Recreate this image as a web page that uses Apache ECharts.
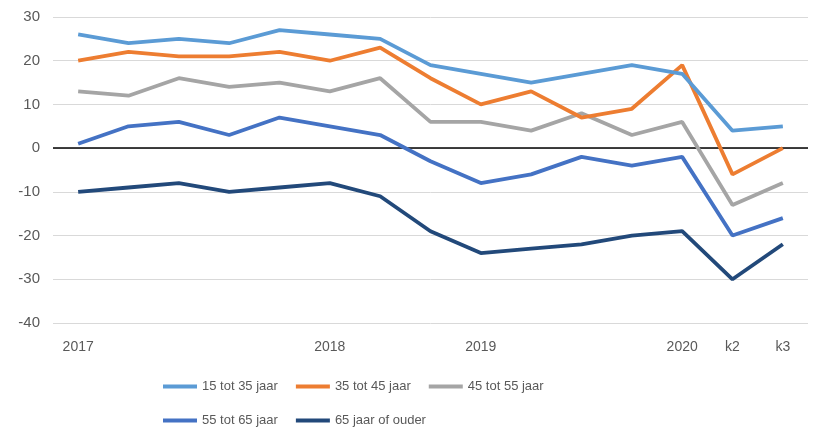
<!DOCTYPE html>
<html><head><meta charset="utf-8">
<script src="https://cdn.jsdelivr.net/npm/echarts@6/dist/echarts.min.js"></script>
<style>html,body{margin:0;padding:0;background:#fff}#c{width:814px;height:432px}</style>
</head><body><div id="c"></div>
<script>
var categories = ["2017","","","","","2018","","","2019","","","","2020","k2","k3"];
var s15_35 = [26,24,25,24,27,26,25,19,17,15,17,19,17,4,5];
var s35_45 = [20,22,21,21,22,20,23,16,10,13,7,9,19,-6,0];
var s45_55 = [13,12,16,14,15,13,16,6,6,4,8,3,6,-13,-8];
var s55_65 = [1,5,6,3,7,5,3,-3,-8,-6,-2,-4,-2,-20,-16];
var s65plus = [-10,-9,-8,-10,-9,-8,-11,-19,-24,-23,-22,-20,-19,-30,-22];
var names = ["15 tot 35 jaar","35 tot 45 jaar","45 tot 55 jaar","55 tot 65 jaar","65 jaar of ouder"];
var colors = ["#5B9BD5","#ED7D31","#A5A5A5","#4472C4","#22497A"];
var yTicks = {min:-40, max:30, interval:10};

var chart = echarts.init(document.getElementById('c'));
var dataSets = [s15_35, s35_45, s45_55, s55_65, s65plus];
var series = dataSets.map(function(d,i){
  var s = {name:names[i], type:'line', data:d, symbol:'none', smooth:false,
    lineStyle:{width:3.8, color:colors[i]}, itemStyle:{color:colors[i]}, z: 10-i};
  if(i===0){
    s.markLine = {silent:true, symbol:['none','none'], label:{show:false},
      lineStyle:{color:'#000', width:1.5, type:'solid'}, data:[{yAxis:0}], z:1};
  }
  return s;
});
var legendCommon = {icon:'rect', itemWidth:34, itemHeight:4, itemGap:18,
  textStyle:{color:'#595959', fontSize:13, fontFamily:'Liberation Sans'}, left:158};
chart.setOption({
  animation:false,
  color:colors,
  grid:{left:53, right:6, top:17, bottom:109},
  legend:[
    Object.assign({}, legendCommon, {top:375, data:names.slice(0,3)}),
    Object.assign({}, legendCommon, {top:409, data:names.slice(3)})
  ],
  xAxis:{type:'category', data:categories, boundaryGap:true,
    axisLine:{show:false}, axisTick:{show:false},
    axisLabel:{interval:0, color:'#595959', fontSize:14, fontFamily:'Liberation Sans', margin:17}},
  yAxis:{type:'value', min:yTicks.min, max:yTicks.max, interval:yTicks.interval,
    axisLine:{show:false}, axisTick:{show:false},
    axisLabel:{color:'#595959', fontSize:15, fontFamily:'Liberation Sans', margin:13},
    splitLine:{lineStyle:{color:'#D9D9D9', width:1}}},
  series:series
});
</script></body></html>
